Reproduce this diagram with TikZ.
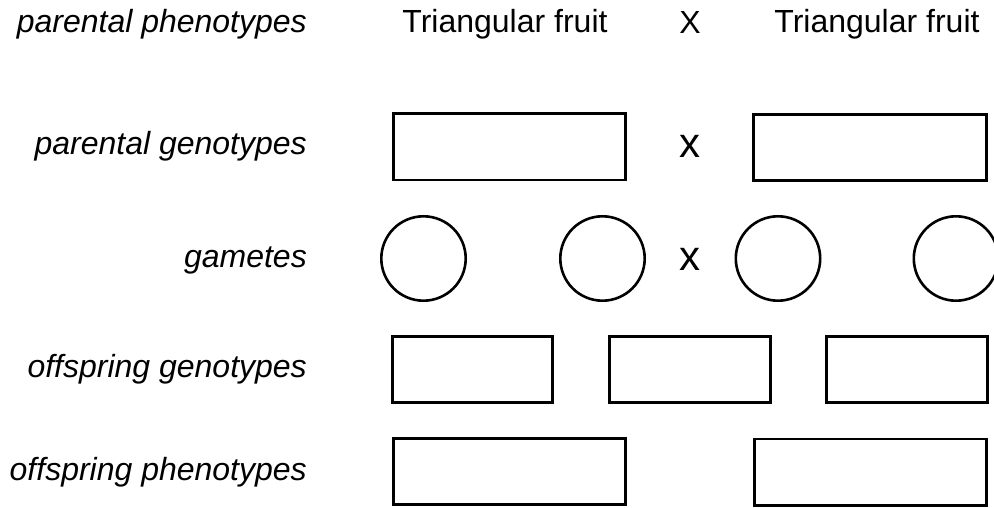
\documentclass[tikz,border=0pt]{standalone}
\usepackage{fontspec}
\setmainfont{Liberation Sans}
\begin{document}
\begin{tikzpicture}[x=1pt,y=-1pt,
  lab/.style={anchor=base east,inner sep=0,font=\fontsize{32}{38}\selectfont\itshape},
  txt/.style={anchor=base,inner sep=0,font=\fontsize{32}{38}\selectfont},
  crs/.style={anchor=base,inner sep=0,font=\fontsize{42}{48}\selectfont},
  box/.style={draw=black,line width=2.6pt,rectangle,inner sep=0,minimum height=66.4pt},
  gam/.style={draw=black,line width=2.6pt,circle,inner sep=0,minimum size=84.4pt}]
\useasboundingbox (0,0) rectangle (994,508);
\clip (0,0) rectangle (994,508);
% row labels
\node[lab] (l1) at (307,33) {parental phenotypes};
\node[lab] (l2) at (307,155) {parental genotypes};
\node[lab] (l3) at (307,267) {gametes};
\node[lab] (l4) at (307,377) {offspring genotypes};
\node[lab] (l5) at (307,480) {offspring phenotypes};
% phenotypes of parents
\node[txt] (t1) at (505,33) {Triangular fruit};
\node[txt] (x1) at (690,34) {X};
\node[txt] (t2) at (877,33) {Triangular fruit};
% parental genotypes
\node[box,minimum width=232.4pt] (pg1) at (509.5,147) {};
\node[crs] (x2) at (690,158) {x};
\node[box,minimum width=233.4pt] (pg2) at (870,147.5) {};
% gametes
\node[gam] (g1) at (423.5,258.5) {};
\node[gam] (g2) at (602.5,258.5) {};
\node[crs] (x3) at (690,270) {x};
\node[gam] (g3) at (778,258.5) {};
\node[gam] (g4) at (956,258.5) {};
% offspring genotypes
\node[box,minimum width=160.4pt] (og1) at (472.5,369.5) {};
\node[box,minimum width=161.4pt] (og2) at (690,369.5) {};
\node[box,minimum width=161.4pt] (og3) at (907,369.5) {};
% offspring phenotypes
\node[box,minimum width=232.4pt] (op1) at (509.5,471.5) {};
\node[box,minimum width=232.4pt] (op2) at (870.5,472) {};
\end{tikzpicture}
\end{document}
